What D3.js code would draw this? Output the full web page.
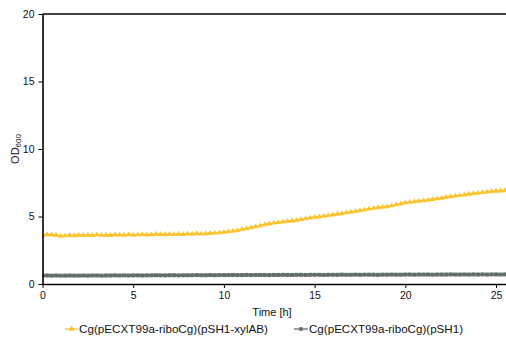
<!DOCTYPE html>
<html><head><meta charset="utf-8">
<script src="https://cdn.jsdelivr.net/npm/d3@7"></script>
<style>
html,body{margin:0;padding:0;background:#fff;}
svg{display:block;font-family:"Liberation Sans",Arial,sans-serif;}
</style></head>
<body><svg id="c" width="506" height="340"></svg>
<script>
const times = [0,0.25,0.5,0.75,1,1.25,1.5,1.75,2,2.25,2.5,2.75,3,3.25,3.5,3.75,4,4.25,4.5,4.75,5,5.25,5.5,5.75,6,6.25,6.5,6.75,7,7.25,7.5,7.75,8,8.25,8.5,8.75,9,9.25,9.5,9.75,10,10.25,10.5,10.75,11,11.25,11.5,11.75,12,12.25,12.5,12.75,13,13.25,13.5,13.75,14,14.25,14.5,14.75,15,15.25,15.5,15.75,16,16.25,16.5,16.75,17,17.25,17.5,17.75,18,18.25,18.5,18.75,19,19.25,19.5,19.75,20,20.25,20.5,20.75,21,21.25,21.5,21.75,22,22.25,22.5,22.75,23,23.25,23.5,23.75,24,24.25,24.5,24.75,25,25.25,25.5];
const xylAB = [3.60,3.66,3.64,3.62,3.55,3.58,3.61,3.59,3.62,
3.60,3.63,3.61,3.64,3.62,3.63,3.61,3.65,
3.64,3.62,3.66,3.63,3.65,3.67,3.64,3.66,
3.70,3.68,3.66,3.69,3.67,3.70,3.68,3.72,
3.70,3.73,3.71,3.74,3.76,3.78,3.80,3.84,
3.88,3.92,3.98,4.05,4.10,4.18,4.25,4.32,
4.40,4.46,4.52,4.56,4.60,4.64,4.68,4.72,
4.78,4.84,4.90,4.95,4.98,5.02,5.08,5.12,
5.18,5.22,5.28,5.34,5.38,5.44,5.50,5.56,
5.62,5.66,5.70,5.74,5.80,5.88,5.94,6.02,
6.06,6.10,6.14,6.18,6.22,6.27,6.32,6.36,
6.42,6.48,6.52,6.56,6.60,6.66,6.70,6.74,
6.78,6.82,6.86,6.88,6.90,6.92];
const pSH1 = [0.62,0.63,0.62,0.63,0.62,0.62,0.63,0.62,0.62,
0.63,0.62,0.63,0.63,0.62,0.63,0.63,0.64,
0.63,0.64,0.63,0.64,0.64,0.63,0.64,0.64,
0.65,0.64,0.64,0.65,0.65,0.64,0.65,0.65,
0.65,0.66,0.65,0.65,0.66,0.65,0.66,0.66,
0.66,0.67,0.66,0.66,0.67,0.66,0.67,0.67,
0.67,0.66,0.67,0.67,0.68,0.67,0.67,0.68,
0.68,0.67,0.68,0.68,0.68,0.67,0.68,0.68,
0.68,0.69,0.68,0.68,0.69,0.68,0.69,0.69,
0.69,0.68,0.69,0.69,0.70,0.69,0.69,0.70,
0.70,0.69,0.70,0.70,0.70,0.69,0.70,0.70,
0.70,0.71,0.70,0.70,0.71,0.70,0.71,0.70,
0.71,0.70,0.71,0.71,0.70,0.71];
const xTicks = [0,5,10,15,20,25];
const yTicks = [0,5,10,15,20];
const seriesNames = ["Cg(pECXT99a-riboCg)(pSH1-xylAB)","Cg(pECXT99a-riboCg)(pSH1)"];
const colors = ["#fbc531","#636d6a"];

const svg = d3.select("#c");
const L=42.5, R=506, T=14, B=284;
const x = d3.scaleLinear().domain([0,25.55]).range([L,R]);
const y = d3.scaleLinear().domain([0,20]).range([B,T]);

svg.append("defs").append("clipPath").attr("id","clip")
  .append("rect").attr("x",L).attr("y",T-5).attr("width",R-L).attr("height",B-T+5);

const g = svg.append("g").attr("clip-path","url(#clip)");
const line = d3.line().x((d,i)=>x(times[i])).y(d=>y(d));

// gray series
g.append("path").datum(pSH1).attr("d",line).attr("fill","none")
  .attr("stroke",colors[1]).attr("stroke-width",2.5);
g.selectAll(".m2").data(pSH1).join("rect")
  .attr("x",(d,i)=>x(times[i])-2).attr("y",d=>y(d)-2).attr("width",4).attr("height",4)
  .attr("fill",colors[1]);

// yellow series
g.append("path").datum(xylAB).attr("d",line).attr("fill","none")
  .attr("stroke",colors[0]).attr("stroke-width",2);
const tri = d3.symbol().type(d3.symbolTriangle).size(14);
g.selectAll(".m1").data(xylAB).join("path")
  .attr("d",tri).attr("transform",(d,i)=>`translate(${x(times[i])},${y(d)})`)
  .attr("fill",colors[0]);

// axes
const xa = svg.append("g").attr("transform",`translate(0,${B})`)
  .call(d3.axisBottom(x).tickValues(xTicks).tickSize(4).tickPadding(4).tickSizeOuter(0));
const ya = svg.append("g").attr("transform",`translate(${L},0)`)
  .call(d3.axisLeft(y).tickValues(yTicks).tickSize(4).tickPadding(4).tickSizeOuter(0));
[xa,ya].forEach(a=>{
  a.select(".domain").attr("stroke","#000").attr("stroke-width",1.6);
  a.selectAll(".tick line").attr("stroke","#000").attr("stroke-width",1);
  a.selectAll(".tick text").attr("font-size",10.5).attr("fill","#111")
   .attr("font-family","'Liberation Sans',Arial,sans-serif");
});
// top border
svg.append("line").attr("x1",L).attr("x2",R).attr("y1",T).attr("y2",T)
  .attr("stroke","#000").attr("stroke-width",1.6);

// axis titles
svg.append("text").attr("x",272).attr("y",316).attr("text-anchor","middle")
  .attr("font-size",11).attr("fill","#111").text("Time [h]");
const yl = svg.append("text").attr("transform","translate(19,149) rotate(-90)")
  .attr("text-anchor","middle").attr("font-size",11).attr("fill","#111");
yl.append("tspan").text("OD");
yl.append("tspan").attr("font-size",8).attr("dy",2).text("600");

// legend
const leg = [{x0:65,x1:78,tx:79,w:189},{x0:294,x1:308,tx:309,w:154}];
leg.forEach((l,i)=>{
  const gy = 329;
  svg.append("line").attr("x1",l.x0).attr("x2",l.x1).attr("y1",gy).attr("y2",gy)
    .attr("stroke",colors[i]).attr("stroke-width",1.3);
  if(i===0){
    svg.append("path").attr("d",d3.symbol().type(d3.symbolTriangle).size(16))
      .attr("transform",`translate(${(l.x0+l.x1)/2},${gy})`).attr("fill",colors[0]);
  } else {
    svg.append("rect").attr("x",(l.x0+l.x1)/2-1.8).attr("y",gy-1.8).attr("width",3.6).attr("height",3.6)
      .attr("fill",colors[1]);
  }
  svg.append("text").attr("x",l.tx).attr("y",gy+4).attr("font-size",11.5).attr("fill","#111")
    .attr("textLength",l.w).attr("lengthAdjust","spacingAndGlyphs")
    .text(seriesNames[i]);
});
</script></body></html>
